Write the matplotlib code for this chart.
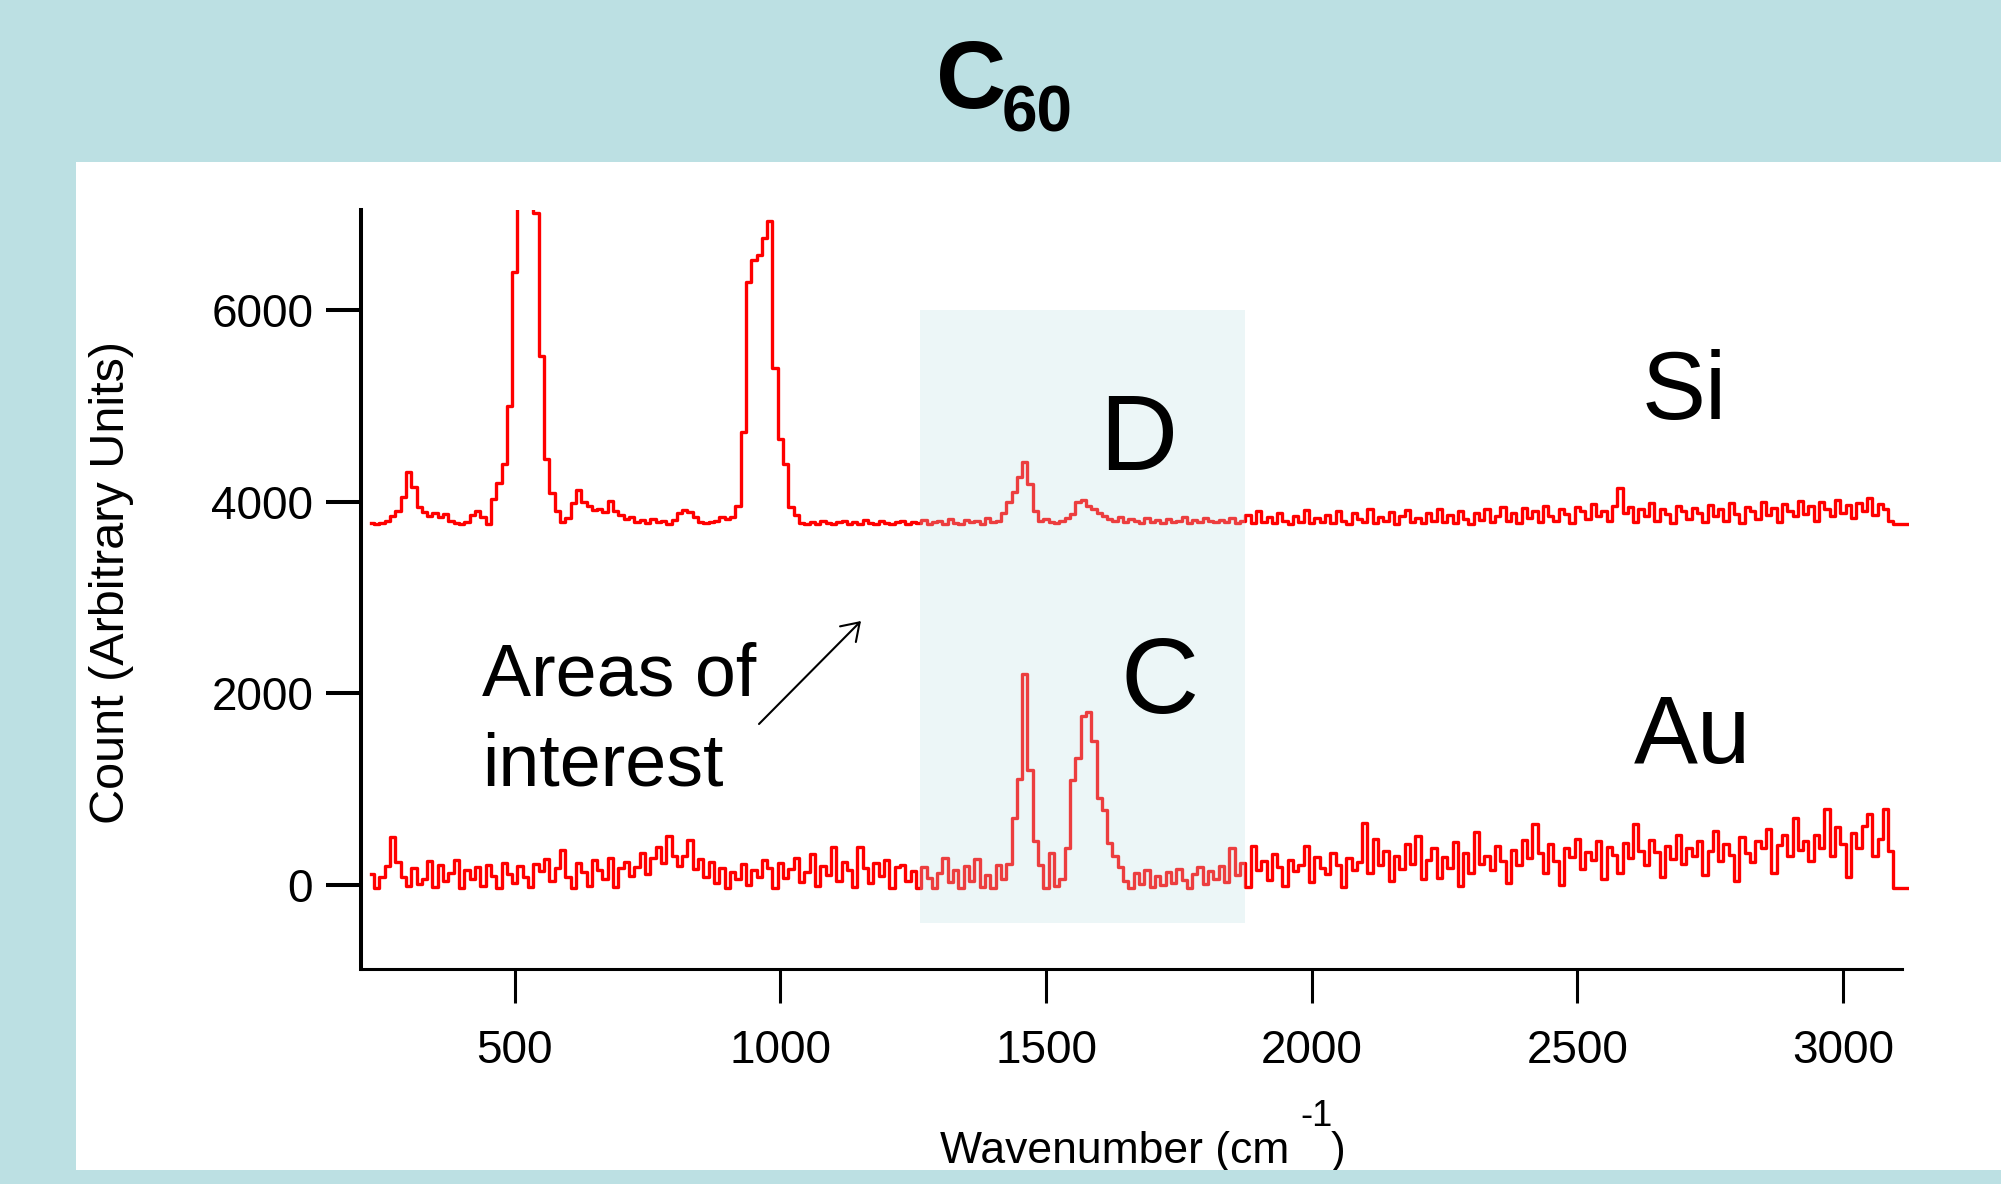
import numpy as np
import matplotlib
matplotlib.use("Agg")
import matplotlib.pyplot as plt
from matplotlib.patches import Rectangle, FancyArrowPatch
from matplotlib import font_manager

# ---------------- data ----------------
wn_start, wn_step = 230, 10          # wavenumber grid of both spectra (cm^-1)

si_counts = [
    3780, 3770, 3780, 3800, 3850, 3900, 4050, 4310, 4150, 3950,
    3890, 3850, 3880, 3840, 3870, 3800, 3780, 3770, 3790, 3860,
    3900, 3840, 3770, 4030, 4200, 4400, 5000, 6400, 9000, 12000,
    11000, 7020, 5520, 4450, 4090, 3900, 3790, 3830, 3990, 4120,
    4000, 3960, 3910, 3930, 3890, 4010, 3900, 3860, 3820, 3840,
    3790, 3810, 3780, 3820, 3790, 3800, 3770, 3810, 3880, 3910,
    3890, 3840, 3790, 3780, 3790, 3800, 3840, 3820, 3840, 3960,
    4730, 6300, 6530, 6580, 6760, 6930, 5400, 4660, 4400, 3950,
    3860, 3780, 3770, 3790, 3770, 3800, 3780, 3770, 3790, 3800,
    3770, 3790, 3770, 3810, 3780, 3770, 3800, 3780, 3770, 3790,
    3800, 3770, 3790, 3780, 3810, 3770, 3790, 3800, 3770, 3820,
    3780, 3770, 3810, 3790, 3800, 3770, 3830, 3790, 3800, 3880,
    4000, 4100, 4260, 4420, 4190, 3900, 3800, 3820, 3790, 3780,
    3800, 3830, 3870, 4000, 4020, 3960, 3920, 3880, 3850, 3820,
    3800, 3840, 3790, 3820, 3800, 3780, 3830, 3790, 3810, 3780,
    3820, 3790, 3800, 3840, 3780, 3810, 3790, 3830, 3800, 3790,
    3810, 3790, 3830, 3780, 3800, 3860, 3780, 3900, 3790, 3840,
    3780, 3880, 3800, 3770, 3850, 3790, 3910, 3780, 3830, 3790,
    3860, 3780, 3900, 3800, 3770, 3880, 3820, 3790, 3920, 3780,
    3840, 3800, 3890, 3770, 3850, 3910, 3790, 3830, 3780, 3880,
    3800, 3930, 3790, 3860, 3780, 3900, 3820, 3770, 3880, 3810,
    3920, 3790, 3850, 3950, 3800, 3880, 3780, 3940, 3830, 3900,
    3790, 3960, 3850, 3800, 3930, 3870, 3780, 3950, 3900, 3820,
    3980, 3850, 3900, 3800, 3960, 4140, 3880, 3950, 3790, 3920,
    3850, 3990, 3800, 3930, 3870, 3780, 3960, 3900, 3820, 3940,
    3880, 3790, 3970, 3850, 3930, 3800, 3990, 3870, 3780, 3950,
    3900, 3820, 4000, 3860, 3940, 3790, 3980, 3900, 3850, 4010,
    3870, 3960, 3800, 4000, 3920, 3850, 4020, 3880, 3970, 3830,
    3990, 3900, 4040, 3860, 3980, 3920, 3800, 3770, 3770, 3770,
]

au_counts = [
    110, -40, 80, 190, 500, 240, 80, -20, 170, 10,
    60, 250, -30, 200, 40, 120, 260, -40, 150, 60,
    180, -20, 200, 90, -40, 230, 110, 20, 190, 80,
    -30, 210, 140, 270, 40, 170, 360, 80, -40, 220,
    130, -20, 260, 150, 60, 280, -30, 170, 240, 90,
    180, 330, 110, 280, 390, 220, 510, 300, 190, 300,
    470, 160, 270, 80, 240, 20, 170, -40, 130, 60,
    210, -10, 150, 80, 260, 170, -40, 220, 70, 160,
    280, 30, 130, 320, -20, 190, 100, 390, 40, 240,
    150, -30, 390, 170, 20, 230, 90, 260, -40, 180,
    200, 40, 140, -40, 180, 70, -40, 120, 280, 30,
    150, -40, 190, 40, 270, -30, 100, -40, 200, 60,
    210, 700, 1100, 2200, 1200, 450, 200, -40, 330, -20,
    60, 380, 1090, 1320, 1760, 1800, 1500, 900, 780, 430,
    300, 180, 40, -40, 120, 10, 150, -30, 90, -10,
    130, 20, 160, 50, -40, 110, 180, 10, 140, 60,
    190, 30, 380, 100, 220, -30, 400, 150, 250, 50,
    320, 180, -20, 260, 140, 200, 400, 30, 290, 170,
    110, 330, 200, -30, 280, 150, 240, 640, 120, 480,
    200, 350, 40, 300, 160, 420, 210, 510, 60, 260,
    380, 70, 290, 170, 440, -20, 330, 120, 550, 210,
    300, 150, 400, 250, 20, 360, 200, 470, 280, 630,
    330, 120, 420, 250, -10, 380, 290, 480, 160, 340,
    260, 450, 60, 390, 310, 120, 430, 280, 630, 350,
    200, 470, 340, 80, 400, 270, 520, 210, 380, 300,
    460, 100, 350, 560, 250, 420, 310, 40, 500, 330,
    240, 450, 380, 580, 120, 410, 520, 300, 700, 360,
    450, 250, 520, 380, 790, 300, 600, 420, 80, 540,
    380, 610, 740, 300, 480, 790, 350, -40, -40, -40,
]

x_ticks = [500, 1000, 1500, 2000, 2500, 3000]
y_ticks = [0, 2000, 4000, 6000]
highlight_x = [1263, 1874]     # "areas of interest" band (cm^-1)
highlight_y = [-405, 6000]     # counts

assert len(si_counts) == len(au_counts)
wavenumber = wn_start + wn_step * np.arange(len(si_counts))

# ---------------- fonts ----------------
names = {f.name for f in font_manager.fontManager.ttflist}
narrow = "Liberation Sans Narrow" in names
axis_font = "Liberation Sans Narrow" if narrow else "Liberation Sans"
slide_font = "Liberation Sans"
plt.rcParams["font.family"] = [axis_font, "DejaVu Sans"]

tick_size = 37 if narrow else 33
xlabel_size = 37 if narrow else 32
ylabel_size = 42 if narrow else 35

# ---------------- figure ----------------
W, H = 2001, 1184
BG = "#BCE0E3"
fig = plt.figure(figsize=(W / 100, H / 100), dpi=100)
fig.patch.set_facecolor(BG)


def fx(x):
    return x / W


def fy(y):
    return 1 - y / H


# white content panel
fig.add_artist(Rectangle((fx(76), fy(1170)), 1 - fx(76), (1170 - 162) / H,
                         transform=fig.transFigure, facecolor="white",
                         edgecolor="none", zorder=-5))

x_lo, x_hi = 210.5, 3125
ax_left, ax_right, ax_top, ax_bot = 361, 1909.4, 210, 969
ax = fig.add_axes([fx(ax_left), fy(ax_bot), (ax_right - ax_left) / W,
                   (ax_bot - ax_top) / H])
ax.set_facecolor("none")
ax.set_xlim(x_lo, x_hi)
ax.set_ylim(-883, 7050)

ax.plot(wavenumber, si_counts, drawstyle="steps-mid", color="#FF0000",
        lw=2.4, zorder=2)
ax.plot(wavenumber, au_counts, drawstyle="steps-mid", color="#FF0000",
        lw=2.4, zorder=2)

ax.add_patch(Rectangle((highlight_x[0], highlight_y[0]),
                       highlight_x[1] - highlight_x[0],
                       highlight_y[1] - highlight_y[0],
                       facecolor=BG, alpha=0.28, edgecolor="none", zorder=3))

for s in ("top", "right"):
    ax.spines[s].set_visible(False)
ax.spines["left"].set_linewidth(2.9)
ax.spines["bottom"].set_linewidth(2.2)
ax.spines["bottom"].set_bounds(x_lo, 3111)

ax.set_xticks(x_ticks)
ax.set_yticks(y_ticks)
ax.tick_params(axis="y", direction="out", length=25, width=2.9, pad=9.4,
               labelsize=tick_size, colors="black")
ax.tick_params(axis="x", direction="out", length=24.5, width=2.2, pad=19,
               labelsize=tick_size, colors="black")

# axis labels
fig.text(fx(1115), fy(1163), "Wavenumber (cm", fontsize=xlabel_size,
         ha="center", va="baseline")
fig.text(fx(1300), fy(1126), "-1", fontsize=26, ha="left", va="baseline")
fig.text(fx(1331), fy(1163), ")", fontsize=xlabel_size, ha="left",
         va="baseline")
fig.text(fx(112), fy(583), "Count (Arbitrary Units)", fontsize=ylabel_size,
         rotation=90, ha="center", va="center")

# bottom strip of the slide background (clips label descenders)
fig.add_artist(Rectangle((0, 0), 1, (H - 1170) / H, transform=fig.transFigure,
                         facecolor=BG, edgecolor="none", zorder=10))

# title C60
fig.text(fx(1006), fy(108), "C", fontsize=70, fontweight="bold",
         family=slide_font, ha="right", va="baseline")
fig.text(fx(1002), fy(131), "60", fontsize=46, fontweight="bold",
         family=slide_font, ha="left", va="baseline")

# slide annotations
fig.text(fx(1684), fy(419), "Si", fontsize=69, family=slide_font,
         ha="center", va="baseline")
fig.text(fx(1692), fy(763), "Au", fontsize=69, family=slide_font,
         ha="center", va="baseline")
fig.text(fx(1138), fy(470), "D", fontsize=78, family=slide_font,
         ha="center", va="baseline")
fig.text(fx(1160), fy(713), "C", fontsize=78, family=slide_font,
         ha="center", va="baseline")
fig.text(fx(482), fy(695), "Areas of", fontsize=53, family=slide_font,
         ha="left", va="baseline")
fig.text(fx(482), fy(785), "interest", fontsize=53, family=slide_font,
         ha="left", va="baseline")

fig.add_artist(FancyArrowPatch((fx(759), fy(724)), (fx(861), fy(621)),
                               transform=fig.transFigure,
                               arrowstyle="->,head_length=0.6,head_width=0.4",
                               mutation_scale=20, lw=1.5, color="black",
                               shrinkA=0, shrinkB=0, zorder=6))

fig.savefig("out.png", dpi=100, facecolor=BG)
